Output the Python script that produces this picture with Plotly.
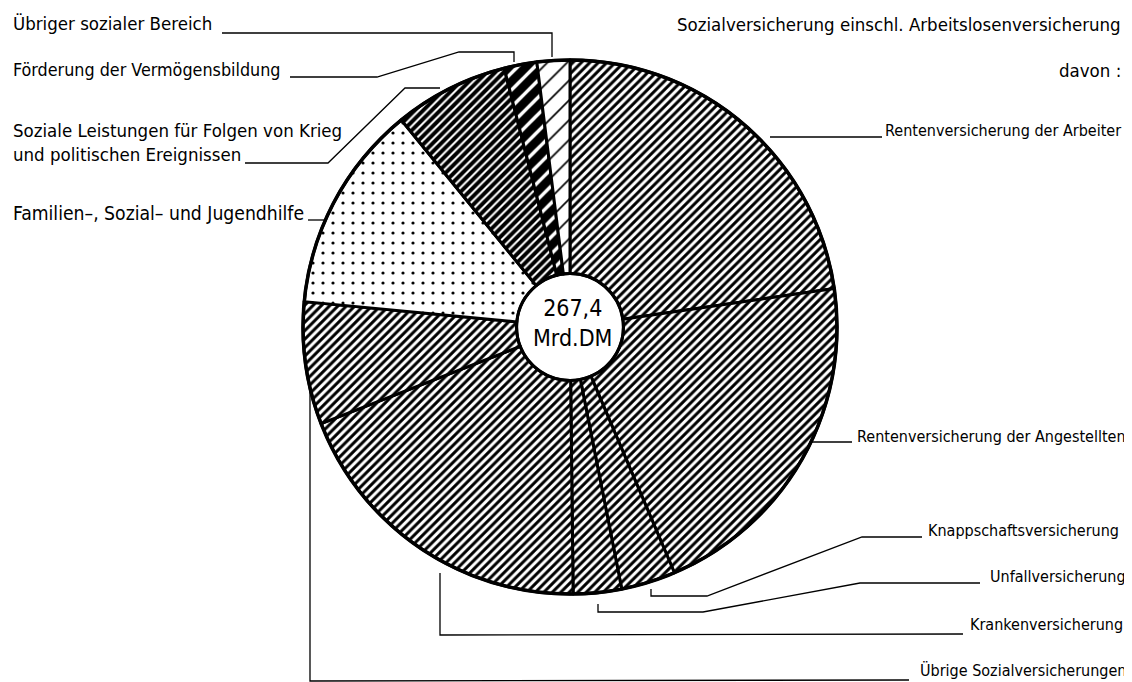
import plotly.graph_objects as go

# target picture size and the browser's default page margin
W, H = 1132, 682
OFF = 8
FW, FH = W - OFF, H - OFF

# ---------------- data ----------------
categories = [
    "Rentenversicherung der Arbeiter",
    "Rentenversicherung der Angestellten",
    "Knappschaftsversicherung",
    "Unfallversicherung",
    "Krankenversicherung",
    "Übrige Sozialversicherungen",
    "Familien–, Sozial– und Jugendhilfe",
    "Soziale Leistungen für Folgen von Krieg und politischen Ereignissen",
    "Förderung der Vermögensbildung",
    "Übriger sozialer Bereich",
]
values_mrd_dm = [60.7, 55.9, 8.8, 7.8, 51.6, 19.8, 33.7, 18.5, 5.3, 5.3]
total_text = "267,4<br>Mrd.DM"
header_texts = ["Sozialversicherung einschl. Arbeitslosenversicherung", "davon :"]

# ---------------- styles ----------------
FONT = "DejaVu Sans Condensed, Liberation Sans Narrow, Arial Narrow, sans-serif"
FS_LEFT = 18.5
FS_RIGHT = 16.0
fine = ("/", 6, 0.5)
pattern_styles = [fine, fine, fine, fine, fine, fine,
                  (".", 10, 0.08), ("/", 6, 0.66), ("/", 12, 0.72), ("/", 14, 0.12)]

CX, CY, R = 570, 327, 267   # pie centre / radius in page pixels
HOLE = 0.2


def px(x, y):
    """page pixel -> paper coordinates"""
    return (x - OFF) / FW, 1 - (y - OFF) / FH


dx0, dy1 = px(CX - R, CY - R)
dx1, dy0 = px(CX + R, CY + R)

pie = go.Pie(
    labels=categories,
    values=values_mrd_dm,
    sort=False,
    direction="clockwise",
    rotation=0,
    hole=HOLE,
    textinfo="none",
    hoverinfo="label+value",
    showlegend=False,
    domain=dict(x=[dx0, dx1], y=[dy0, dy1]),
    marker=dict(
        colors=["white"] * len(categories),
        line=dict(color="black", width=3),
        pattern=dict(
            shape=[s[0] for s in pattern_styles],
            size=[s[1] for s in pattern_styles],
            solidity=[s[2] for s in pattern_styles],
            fgcolor="black",
            bgcolor="white",
            fillmode="replace",
        ),
    ),
)

fig = go.Figure(pie)

# leader lines (page pixel coordinates)
leaders = [
    [(222, 33), (552, 33), (552, 57)],
    [(290, 77), (377, 77), (459, 52), (514, 52), (514, 62)],
    [(245, 163), (328, 163), (405, 88), (440, 88)],
    [(308, 220), (324, 220)],
    [(770, 137), (882, 137)],
    [(812, 442), (852, 442)],
    [(922, 537), (862, 537), (707, 596), (651, 596), (651, 589)],
    [(980, 583), (860, 583), (703, 612), (598, 612), (598, 604)],
    [(963, 634), (440, 635), (440, 573)],
    [(909, 680), (310, 681), (310, 390)],
]
shapes = []
for pts in leaders:
    p = " ".join(("M" if i == 0 else "L") + f" {px(x, y)[0]:.5f},{px(x, y)[1]:.5f}"
                 for i, (x, y) in enumerate(pts))
    shapes.append(dict(type="path", path=p, xref="paper", yref="paper",
                       line=dict(color="black", width=1.3)))

# outer rim and hole rim
for rr, wdt in [(R, 3.5), (R * HOLE, 3)]:
    x0, y1 = px(CX - rr, CY - rr)
    x1, y0 = px(CX + rr, CY + rr)
    shapes.append(dict(type="circle", xref="paper", yref="paper", x0=x0, y0=y0, x1=x1, y1=y1,
                       line=dict(color="black", width=wdt)))

# label annotations: (x, y, anchor, size)
label_pos = [
    (1123, 130, "right", FS_RIGHT),
    (1128, 436, "right", FS_RIGHT),
    (1121, 530, "right", FS_RIGHT),
    (1128, 576, "right", FS_RIGHT),
    (1125, 624, "right", FS_RIGHT),
    (1128, 670, "right", FS_RIGHT),
    (11, 213, "left", 19.2),
    (11, 143, "left", FS_LEFT),
    (11, 70, "left", 17.8),
    (11, 23, "left", FS_LEFT),
]
label_texts = list(categories)
label_texts[7] = "Soziale Leistungen für Folgen von Krieg<br>und politischen Ereignissen"

annotations = []
for (x, y, anc, fs), t in zip(label_pos, label_texts):
    ax, ay = px(x, y)
    annotations.append(dict(x=ax, y=ay, xref="paper", yref="paper", text=t, showarrow=False,
                            xanchor=anc, yanchor="middle", align="left",
                            font=dict(family=FONT, size=fs, color="black")))

for (x, y), t in zip([(1123, 24), (1123, 71)], header_texts):
    ax, ay = px(x, y)
    annotations.append(dict(x=ax, y=ay, xref="paper", yref="paper", text=t, showarrow=False,
                            xanchor="right", yanchor="middle",
                            font=dict(family=FONT, size=FS_LEFT, color="black")))

cx, cy = px(CX + 2, CY - 4)
annotations.append(dict(x=cx, y=cy, xref="paper", yref="paper", text=total_text, showarrow=False,
                        xanchor="center", yanchor="middle", align="center",
                        font=dict(family=FONT, size=23, color="black")))

fig.update_layout(
    width=FW, height=FH,
    margin=dict(l=0, r=0, t=0, b=0),
    paper_bgcolor="white", plot_bgcolor="white",
    shapes=shapes, annotations=annotations,
)

fig.write_html("out.html")
